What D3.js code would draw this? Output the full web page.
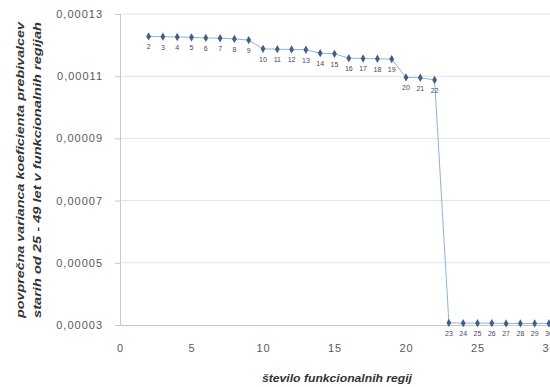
<!DOCTYPE html>
<html>
<head>
<meta charset="utf-8">
<script src="https://cdn.jsdelivr.net/npm/d3@7"></script>
<style>
  html, body { margin: 0; padding: 0; background: #fff; }
  svg { display: block; }
  .tick text { font-family: "Liberation Sans", Arial, sans-serif; fill: #595959; }
</style>
</head>
<body>
<svg id="chart" width="550" height="387"></svg>
<script>
// number of functional regions
const regionCounts = [2,3,4,5,6,7,8,9,10,11,12,13,14,15,16,17,18,19,20,21,22,23,24,25,26,27,28,29,30];
// mean variance of the 25–49 age-group coefficient
const meanVariance = [
  0.0001228, 0.0001227, 0.0001226, 0.0001225, 0.0001223, 0.0001222, 0.0001220, 0.0001216,
  0.0001188, 0.0001187, 0.0001186, 0.0001185,
  0.0001174, 0.0001172,
  0.0001158, 0.0001157, 0.0001156, 0.0001155,
  0.0001096, 0.0001095, 0.0001088,
  0.0000307, 0.0000306, 0.0000306, 0.0000306, 0.0000305, 0.0000305, 0.0000305, 0.0000305
];
const xTicks = [0, 5, 10, 15, 20, 25, 30];
const yTicks = [0.00003, 0.00005, 0.00007, 0.00009, 0.00011, 0.00013];

const svg = d3.select("#chart");
const plotLeft = 120, plotRight = 549, plotTop = 14, plotBottom = 325;

const x = d3.scaleLinear().domain([0, 30]).range([plotLeft, plotRight]);
const y = d3.scaleLinear().domain([0.00003, 0.00013]).range([plotBottom, plotTop]);

const fmtY = v => d3.format(".5f")(v).replace(".", ",");

// horizontal gridlines
svg.append("g")
  .selectAll("line")
  .data(yTicks.slice(1))
  .join("line")
  .attr("x1", plotLeft).attr("x2", 550)
  .attr("y1", d => y(d)).attr("y2", d => y(d))
  .attr("stroke", "#e3e3e3").attr("stroke-width", 1);

// y axis
const yAxis = svg.append("g")
  .attr("transform", `translate(${plotLeft},0)`)
  .call(d3.axisLeft(y).tickValues(yTicks).tickFormat(fmtY).tickSize(5).tickPadding(12));
yAxis.select(".domain").attr("stroke", "#c8c8c8");
yAxis.selectAll(".tick line").attr("stroke", "#c8c8c8");
yAxis.selectAll(".tick text").attr("font-size", 11).attr("letter-spacing", 1);

// x axis
const xAxis = svg.append("g")
  .attr("transform", `translate(0,${plotBottom})`)
  .call(d3.axisBottom(x).tickValues(xTicks).tickSize(0).tickPadding(19));
xAxis.select(".domain").attr("stroke", "#c8c8c8");
xAxis.selectAll(".tick text").attr("font-size", 11).attr("letter-spacing", 1);

// series line
const pts = regionCounts.map((c, i) => ({ c, v: meanVariance[i] }));
svg.append("path")
  .datum(pts)
  .attr("fill", "none")
  .attr("stroke", "#8fb2dc")
  .attr("stroke-width", 1)
  .attr("d", d3.line().x(d => x(d.c)).y(d => y(d.v)));

// markers
svg.append("g")
  .selectAll("path")
  .data(pts)
  .join("path")
  .attr("transform", d => `translate(${x(d.c)},${y(d.v)})`)
  .attr("d", d3.symbol(d3.symbolDiamond, 20))
  .attr("fill", "#3f5f86");

// point labels
svg.append("g")
  .selectAll("text")
  .data(pts)
  .join("text")
  .attr("x", d => x(d.c))
  .attr("y", d => y(d.v) + 13)
  .attr("text-anchor", "middle")
  .attr("font-family", "Liberation Sans, Arial, sans-serif")
  .attr("font-size", 7)
  .attr("fill", "#404a5a")
  .text(d => d.c);

// axis titles
svg.append("text")
  .attr("x", 337).attr("y", 382)
  .attr("text-anchor", "middle")
  .attr("font-family", "Liberation Sans, Arial, sans-serif")
  .attr("font-size", 11.5).attr("font-weight", "bold").attr("font-style", "italic")
  .attr("fill", "#333")
  .attr("textLength", 150).attr("lengthAdjust", "spacingAndGlyphs")
  .text("število funkcionalnih regij");

const yTitle = svg.append("text")
  .attr("transform", "translate(0,170) rotate(-90)")
  .attr("text-anchor", "middle")
  .attr("font-family", "Liberation Sans, Arial, sans-serif")
  .attr("font-size", 11.5).attr("font-weight", "bold").attr("font-style", "italic")
  .attr("fill", "#333");
yTitle.append("tspan").attr("x", 0).attr("y", 24)
  .attr("textLength", 296).attr("lengthAdjust", "spacingAndGlyphs")
  .text("povprečna varianca koeficienta prebivalcev");
yTitle.append("tspan").attr("x", 0).attr("y", 41)
  .attr("textLength", 296).attr("lengthAdjust", "spacingAndGlyphs")
  .text("starih od 25 - 49 let v funkcionalnih regijah");
</script>
</body>
</html>
